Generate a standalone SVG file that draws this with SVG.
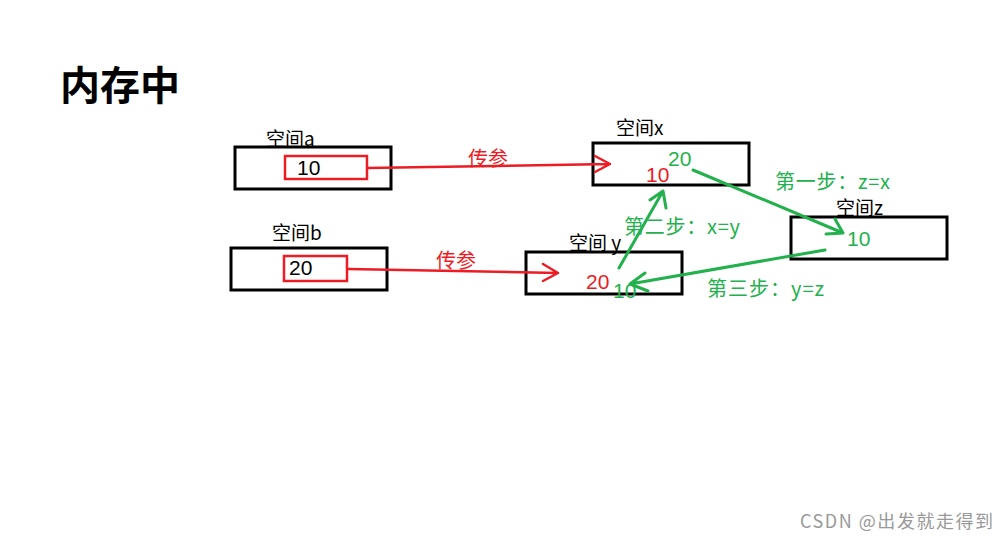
<svg xmlns="http://www.w3.org/2000/svg" width="1008" height="541" viewBox="0 0 1008 541">
  <style>
    .box { fill: none; stroke: #000; stroke-width: 3; }
    .slot { fill: none; stroke: #ed1c24; stroke-width: 2.5; }
    .t { font-family: "Noto Sans CJK SC", "Liberation Sans", sans-serif; font-size: 19px; }
    .num { font-family: "Liberation Sans", "Noto Sans CJK SC", sans-serif; font-size: 21px; }
    .step { font-size: 20px; }
    .blk { fill: #000; }
    .red { fill: #ed1c24; }
    .grn { fill: #22b14c; }
    .rline { fill: none; stroke: #ed1c24; stroke-width: 2.5; stroke-linecap: round; stroke-linejoin: round; }
    .gline { fill: none; stroke: #22b14c; stroke-width: 3; stroke-linecap: round; stroke-linejoin: round; }
  </style>
  <rect width="1008" height="541" fill="#fff"/>

  <text x="60" y="100" font-family="Noto Sans CJK SC, sans-serif" font-size="40" font-weight="bold" fill="#000">内存中</text>

  <g id="space-a">
    <rect class="box" x="235" y="147" width="156" height="42"/>
    <rect class="slot" x="285" y="156" width="82" height="23"/>
    <text class="t blk" x="266" y="146">空间a</text>
    <text class="num blk" x="297" y="175">10</text>
  </g>

  <g id="space-b">
    <rect class="box" x="231" y="248" width="156" height="42"/>
    <rect class="slot" x="284" y="256" width="63" height="25"/>
    <text class="t blk" x="272" y="240">空间b</text>
    <text class="num blk" x="289" y="275">20</text>
  </g>

  <g id="space-x">
    <rect class="box" x="593" y="143" width="156" height="42"/>
    <text class="t blk" x="616" y="135">空间x</text>
    <text class="num red" x="646" y="182">10</text>
    <text class="num grn" x="668" y="166">20</text>
  </g>

  <g id="space-y">
    <rect class="box" x="526" y="252" width="156" height="42"/>
    <text class="t blk" x="569" y="250">空间 y</text>
    <text class="num red" x="586" y="289">20</text>
    <text class="num grn" x="613" y="298">10</text>
  </g>

  <g id="space-z">
    <rect class="box" x="791" y="217" width="156" height="42"/>
    <text class="t blk" x="836" y="215">空间z</text>
    <text class="num grn" x="847" y="246">10</text>
  </g>

  <g id="connectors">
    <!-- parameter passing -->
    <path class="rline" d="M367 168 L610 164 M595 156 L610 164 L595 172"/>
    <text class="t red step" x="468" y="166">传参</text>
    <path class="rline" d="M348 269 L558 273 M543 264 L558 273 L543 281"/>
    <text class="t red step" x="436" y="268">传参</text>

    <!-- swap steps -->
    <path class="gline" d="M693 170 L843 233 M826 234 L843 233 L835 219"/>
    <text class="t grn step" x="775" y="189" textLength="115">第一步：z=x</text>
    <path class="gline" d="M619 268 L663 191 M650 200 L663 191 L666 208"/>
    <text class="t grn step" x="624" y="234" textLength="116">第二步：x=y</text>
    <path class="gline" d="M825 250 L630 284 M645 273 L630 284 L648 291"/>
    <text class="t grn step" x="707" y="296" textLength="117">第三步：y=z</text>
  </g>

  <text x="800" y="528" font-family="Noto Sans CJK SC, Liberation Sans, sans-serif" font-size="18" fill="#999" textLength="193">CSDN @出发就走得到</text>
</svg>
